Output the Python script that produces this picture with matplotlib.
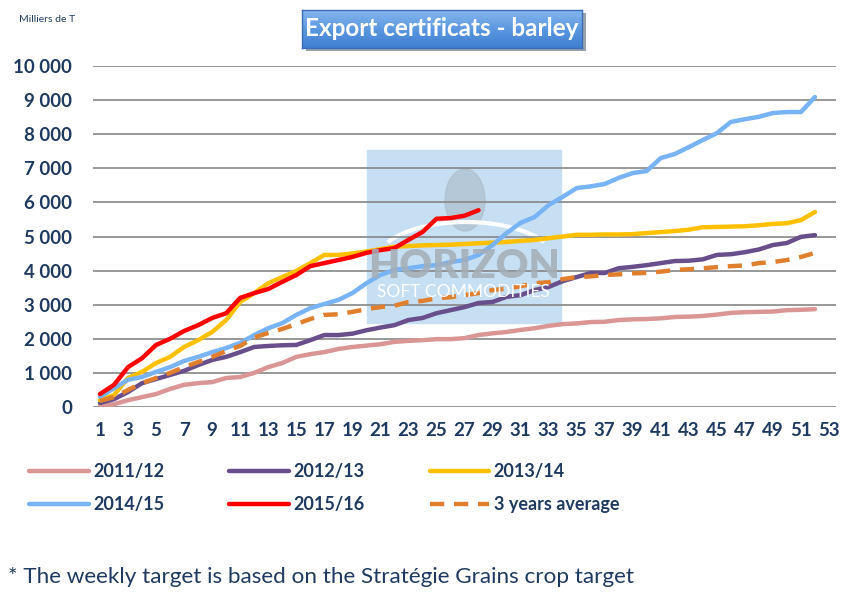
import numpy as np
import matplotlib
matplotlib.use("Agg")
import matplotlib.pyplot as plt
from matplotlib.patches import Rectangle, Ellipse, Arc
from matplotlib.colors import LinearSegmentedColormap

# cumulative export certificates, thousand tonnes, by week of campaign
weeks = np.arange(1, 53)
s2011 = [50, 80, 200, 290, 380, 530, 650, 700, 730, 850,
         880, 1000, 1170, 1290, 1470, 1550, 1610, 1700, 1760, 1800,
         1840, 1910, 1940, 1960, 1990, 1990, 2020, 2110, 2160, 2200,
         2260, 2310, 2380, 2430, 2450, 2490, 2500, 2550, 2570, 2580,
         2600, 2640, 2650, 2670, 2710, 2760, 2780, 2790, 2800, 2840, 2850, 2870]
s2012 = [120, 230, 440, 700, 820, 940, 1060, 1230, 1380, 1470,
         1610, 1760, 1790, 1810, 1820, 1960, 2110, 2110, 2150, 2250,
         2330, 2400, 2550, 2610, 2750, 2840, 2930, 3050, 3080, 3230,
         3280, 3430, 3520, 3690, 3810, 3930, 3930, 4070, 4110, 4160,
         4220, 4280, 4290, 4330, 4460, 4480, 4540, 4620, 4750, 4810, 4990, 5040]
s2013 = [200, 350, 850, 1030, 1290, 1470, 1760, 1960, 2200, 2550,
         3080, 3340, 3630, 3810, 3990, 4220, 4460, 4460, 4500, 4560,
         4630, 4700, 4720, 4740, 4750, 4760, 4780, 4800, 4820, 4840,
         4870, 4900, 4950, 5000, 5050, 5050, 5060, 5060, 5070, 5100,
         5130, 5160, 5200, 5270, 5280, 5290, 5300, 5330, 5370, 5390, 5480, 5720]
s2014 = [300, 550, 800, 880, 1030, 1170, 1350, 1470, 1610, 1730,
         1880, 2110, 2310, 2460, 2700, 2900, 3020, 3140, 3340, 3630,
         3870, 4020, 4070, 4130, 4160, 4250, 4310, 4460, 4750, 5100,
         5400, 5570, 5920, 6160, 6420, 6470, 6540, 6720, 6860, 6920,
         7300, 7420, 7620, 7830, 8030, 8360, 8440, 8510, 8620, 8650, 8650, 9090]
s2015 = [380, 650, 1170, 1430, 1820, 2000, 2230, 2400, 2610, 2750,
         3200, 3340, 3460, 3670, 3870, 4130, 4220, 4310, 4400, 4520,
         4600, 4660, 4900, 5130, 5520, 5540, 5610, 5770]
avg3 = [180, 290, 500, 700, 850, 1000, 1170, 1320, 1470, 1640,
        1790, 2040, 2170, 2290, 2430, 2580, 2700, 2720, 2790, 2870,
        2930, 2970, 3080, 3110, 3190, 3220, 3280, 3340, 3430, 3470,
        3540, 3630, 3660, 3750, 3810, 3830, 3870, 3890, 3920, 3930,
        3970, 4020, 4040, 4070, 4100, 4130, 4150, 4220, 4250, 4310, 4400, 4520]

NAVY = "#1f3a60"
FONT = "Lato"
W, H = 861, 597


def fx(px):
    return px / W


def fy(py):
    return 1 - py / H


fig = plt.figure(figsize=(W / 100, H / 100), dpi=100)
ax = fig.add_axes([fx(93), fy(407), fx(836) - fx(93), fy(66) - fy(407)])

# watermark block behind the lines
ax.add_patch(Rectangle((fx(367), fy(323)), fx(194), 173 / H, transform=fig.transFigure,
                       color="#c6dff2", zorder=0.2))
ax.add_patch(Ellipse((fx(465), fy(200)), fx(40), 62 / H, transform=fig.transFigure,
                     color="#aebfcc", alpha=0.7, zorder=0.3))
ax.add_patch(Arc((fx(466), fy(262)), fx(180), 80 / H, theta1=20, theta2=160,
                 transform=fig.transFigure, color="white", lw=3, zorder=0.35))
fig.text(fx(464), fy(266), "HORIZON", ha="center", va="center",
         fontsize=29, fontweight="heavy", color="#a3aeb7", alpha=0.85, family=FONT)
fig.text(fx(463), fy(292), "SOFT COMMODITIES", ha="center", va="center",
         fontsize=12.5, color="white", family=FONT)

series = [
    ("2011/12", s2011, "#d99694"),
    ("2012/13", s2012, "#684f8c"),
    ("2013/14", s2013, "#ffc000"),
    ("2014/15", s2014, "#78b3f5"),
    ("2015/16", s2015, "#ff0000"),
]
handles = {}
for name, vals, color in series:
    (h,) = ax.plot(weeks[:len(vals)], vals, color=color, lw=3.2, label=name,
                   solid_capstyle="round", solid_joinstyle="round", zorder=3)
    handles[name] = h
(h,) = ax.plot(weeks, avg3, color="#e0802f", lw=3.2, ls=(0, (3.2, 2.2)),
               label="3 years average", zorder=3)
handles["3 years average"] = h

ax.set_xlim(0.5, 53.5)
ax.set_ylim(0, 10000)
ax.set_xticks(range(1, 54, 2))
yt = list(range(0, 10001, 1000))
ax.set_yticks(yt)
ax.set_yticklabels([f"{v:,}".replace(",", " ") for v in yt])
ax.grid(axis="y", color="#868686", lw=1.2, zorder=1.5)
for s in ax.spines.values():
    s.set_visible(False)
ax.tick_params(length=0, labelsize=13.5, labelcolor=NAVY)
ax.tick_params(axis="x", pad=11)
ax.tick_params(axis="y", pad=15)
for lab in ax.get_xticklabels() + ax.get_yticklabels():
    lab.set_fontweight("bold")
    lab.set_family(FONT)

# title box with gradient and shadow
tax = fig.add_axes([fx(306), fy(51), fx(280), 38 / H])
tax.add_patch(Rectangle((0, 0), 1, 1, color="#9aa3ad", transform=tax.transAxes))
tax.axis("off")
bax = fig.add_axes([fx(302), fy(48), fx(280), 38 / H])
grad = np.linspace(0, 1, 64).reshape(-1, 1)
cmap = LinearSegmentedColormap.from_list("tb", ["#86b6ee", "#5c98e0", "#3f7fd2"])
bax.imshow(grad, aspect="auto", cmap=cmap, extent=(0, 1, 0, 1), origin="upper")
bax.set_xticks([])
bax.set_yticks([])
for s in bax.spines.values():
    s.set_color("#3a6fb5")
    s.set_linewidth(1)
bax.text(0.5, 0.5, "Export certificats - barley", ha="center", va="center",
         color="white", fontsize=17.5, fontweight="bold", family=FONT, transform=bax.transAxes)

fig.text(fx(19), fy(19), "Milliers de T", ha="left", va="center", fontsize=7.5,
         color=NAVY, family=FONT)

order = ["2011/12", "2014/15", "2012/13", "2015/16", "2013/14", "3 years average"]
leg = fig.legend([handles[k] for k in order], order, ncol=3, loc="upper left",
                 bbox_to_anchor=(fx(29), fy(463)), frameon=False, borderpad=0,
                 borderaxespad=0, handlelength=3.3, handletextpad=0.25,
                 columnspacing=3.6, labelspacing=0.9,
                 prop={"family": FONT, "weight": "bold", "size": 13})
for t in leg.get_texts():
    t.set_color(NAVY)

fig.text(fx(8), fy(577), "* The weekly target is based on the Stratégie Grains crop target",
         ha="left", va="center", fontsize=16.2, color=NAVY, family=FONT)

fig.savefig("out.png", dpi=100)
